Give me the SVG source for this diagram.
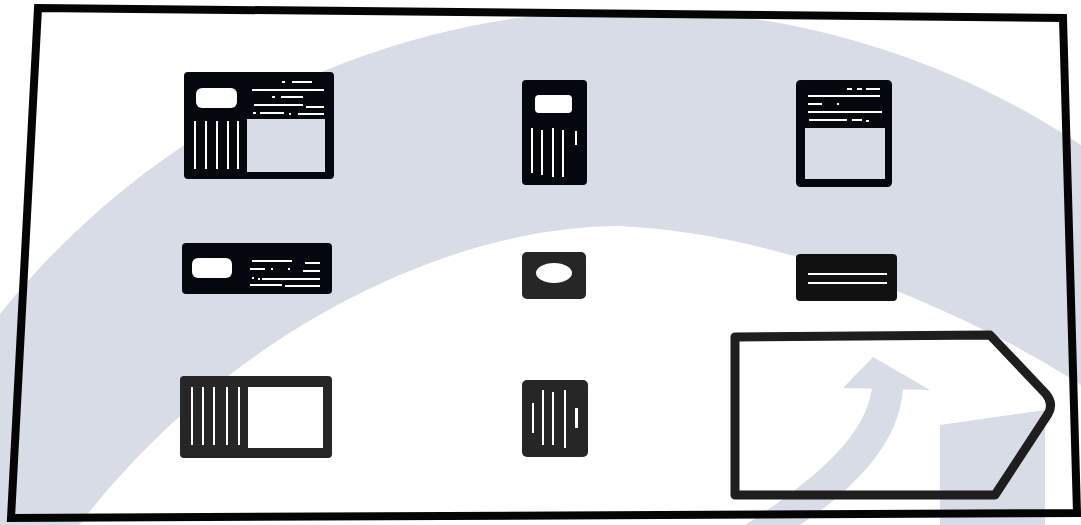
<svg xmlns="http://www.w3.org/2000/svg" width="1081" height="525" viewBox="0 0 1081 525">
<style>
.wm{fill:#d8dce7}
.ink{fill:#05070f}
.gray{fill:#262626}
.w{fill:#ffffff}
.frame{fill:none;stroke:#050505;stroke-width:8;stroke-linejoin:miter}
.pent{fill:none;stroke:#1e1e1e;stroke-width:9;stroke-linejoin:round}
</style>
<rect width="1081" height="525" fill="#ffffff"/>
<g id="watermark">
<path class="wm" d="M 1081 385 C 980 320 800 235 620 226 C 450 226 230 330 79 525 L 0 525 L 0 314 A 810 810 0 0 1 1081 145 Z"/>
<path class="wm" d="M 872 388 C 866 430 830 470 745 525 L 800 525 C 860 485 900 440 903 388 Z"/>
<polygon class="wm" points="873,357 843,388 930,390"/>
<polygon class="wm" points="940,425 1045,410 1045,525 940,525"/>
</g>
<g id="border">
<path class="frame" d="M 38 8 L 1063 18 L 1077 513 L 11 518 Z"/>
</g>
<g id="connectors"/>
<g id="icon-1">
<path class="ink" fill-rule="evenodd" d="M 188 72 H 330 Q 334 72 334 76 V 175 Q 334 179 330 179 H 188 Q 184 179 184 175 V 76 Q 184 72 188 72 Z M 247 119 V 172 H 325 V 119 Z"/>
<rect class="w" x="196" y="88" width="41" height="20" rx="6"/>
<rect class="w" x="282" y="81" width="3" height="2"/><rect class="w" x="292" y="81" width="20" height="2"/>
<rect class="w" x="252" y="89" width="72" height="2"/>
<rect class="w" x="272" y="96" width="3" height="2"/><rect class="w" x="281" y="96" width="22" height="2"/>
<rect class="w" x="254" y="104" width="49" height="2"/><rect class="w" x="306" y="106" width="18" height="2"/>
<rect class="w" x="253" y="112" width="3" height="2"/><rect class="w" x="260" y="112" width="24" height="2"/><rect class="w" x="289" y="113" width="2" height="2"/><rect class="w" x="298" y="113" width="26" height="2"/>
<rect class="w" x="194" y="121" width="2" height="48"/><rect class="w" x="205" y="121" width="2" height="48"/><rect class="w" x="216" y="121" width="2" height="48"/><rect class="w" x="227" y="121" width="2" height="48"/><rect class="w" x="237" y="121" width="2" height="48"/>
</g>
<g id="icon-2">
<rect class="ink" x="522" y="80" width="65" height="105" rx="4"/>
<rect class="w" x="535" y="95" width="37" height="18" rx="4"/>
<rect class="w" x="531" y="128" width="2" height="45"/><rect class="w" x="541" y="130" width="2" height="45"/><rect class="w" x="552" y="128" width="2" height="49"/><rect class="w" x="562" y="130" width="2" height="47"/><rect class="w" x="575" y="131" width="2" height="14"/>
</g>
<g id="icon-3">
<path class="ink" fill-rule="evenodd" d="M 801 80 H 887 Q 892 80 892 85 V 182 Q 892 187 887 187 H 801 Q 796 187 796 182 V 85 Q 796 80 801 80 Z M 805 128 V 179 H 885 V 128 Z"/>
<rect class="w" x="847" y="88" width="5" height="2"/><rect class="w" x="857" y="88" width="5" height="2"/><rect class="w" x="866" y="88" width="14" height="2"/>
<rect class="w" x="808" y="95" width="72" height="2"/>
<rect class="w" x="808" y="103" width="14" height="2"/><rect class="w" x="837" y="103" width="2" height="2"/>
<rect class="w" x="808" y="111" width="74" height="2"/>
<rect class="w" x="809" y="119" width="38" height="2"/><rect class="w" x="852" y="119" width="10" height="2"/><rect class="w" x="866" y="120" width="3" height="2"/>
</g>
<g id="icon-4">
<rect class="ink" x="182" y="243" width="150" height="51" rx="4"/>
<rect class="w" x="192" y="258" width="40" height="20" rx="6"/>
<rect class="w" x="252" y="260" width="40" height="2"/><rect class="w" x="305" y="262" width="15" height="2"/>
<rect class="w" x="250" y="268" width="15" height="2"/><rect class="w" x="271" y="268" width="2" height="2"/><rect class="w" x="288" y="268" width="2" height="2"/><rect class="w" x="303" y="270" width="17" height="2"/>
<rect class="w" x="252" y="277" width="2" height="2"/><rect class="w" x="258" y="278" width="2" height="2"/><rect class="w" x="262" y="278" width="58" height="2"/>
<rect class="w" x="250" y="284" width="32" height="2"/><rect class="w" x="285" y="285" width="35" height="2"/>
</g>
<g id="icon-5">
<rect class="gray" x="522" y="252" width="64" height="47" rx="5"/>
<ellipse class="w" cx="554" cy="273" rx="18" ry="10"/>
</g>
<g id="icon-6">
<rect fill="#111111" x="796" y="254" width="101" height="47" rx="4"/>
<rect class="w" x="808" y="273" width="79" height="2"/>
<rect class="w" x="808" y="282" width="79" height="2"/>
</g>
<g id="icon-7">
<path class="gray" fill-rule="evenodd" d="M 184 376 H 328 Q 332 376 332 380 V 454 Q 332 458 328 458 H 184 Q 180 458 180 454 V 380 Q 180 376 184 376 Z M 248 387 V 448 H 323 V 387 Z"/>
<rect class="w" x="191" y="387" width="2" height="58"/><rect class="w" x="202" y="387" width="2" height="58"/><rect class="w" x="213" y="387" width="2" height="58"/><rect class="w" x="226" y="387" width="2" height="58"/><rect class="w" x="238" y="387" width="2" height="58"/>
</g>
<g id="icon-8">
<rect class="gray" x="522" y="380" width="66" height="77" rx="5"/>
<rect class="w" x="532" y="403" width="2" height="30"/><rect class="w" x="542" y="390" width="2" height="55"/><rect class="w" x="552" y="392" width="2" height="53"/><rect class="w" x="564" y="390" width="2" height="58"/><rect class="w" x="575" y="408" width="3" height="20"/>
</g>
<g id="sim-outline">
<path class="pent" d="M 735 337 L 990 335 L 1046 394 Q 1054 404 1048 414 L 995 495 L 735 495 Z"/>
</g>
</svg>
